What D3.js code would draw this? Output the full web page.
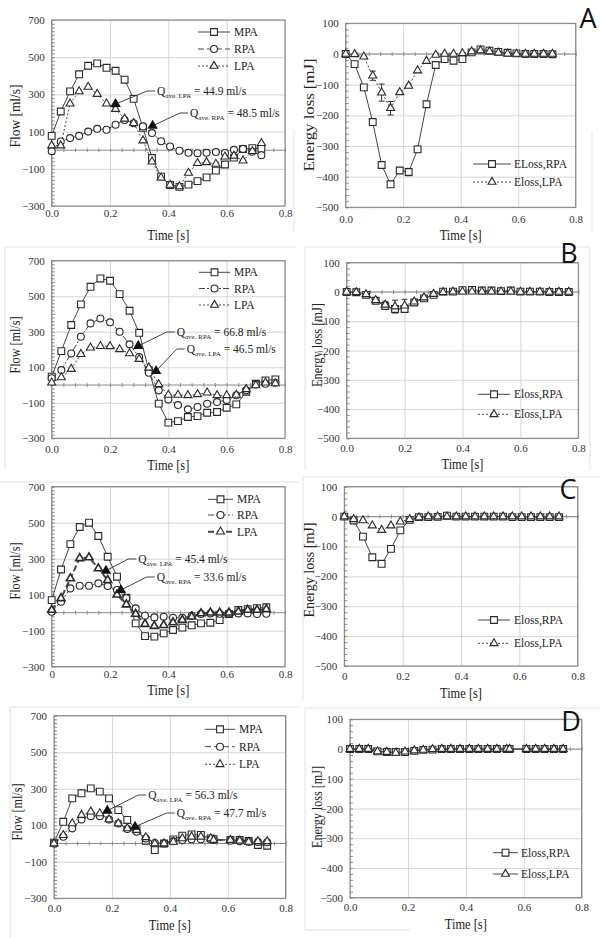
<!DOCTYPE html>
<html><head><meta charset="utf-8">
<script src="https://cdn.jsdelivr.net/npm/d3@7"></script>
<style>body{margin:0;background:#fff} svg{display:block}</style>
</head><body>
<svg id="c" width="600" height="938"></svg>
<script>
// ---------------- DATA ----------------
const timeTicks = [0, 0.2, 0.4, 0.6, 0.8];
const flowTicks = [700, 500, 300, 100, -100, -300];
const elossTicks = [100, 0, -100, -200, -300, -400, -500];

const timeA = [0,0.031,0.063,0.094,0.125,0.156,0.188,0.219,0.25,0.281,0.313,0.344,0.375,0.406,0.438,0.469,0.5,0.531,0.563,0.594,0.625,0.656,0.688,0.719];
const timeB = [0,0.033,0.067,0.1,0.133,0.167,0.2,0.233,0.267,0.3,0.333,0.367,0.4,0.433,0.467,0.5,0.533,0.567,0.6,0.633,0.667,0.7,0.733,0.767];
const timeC = [0,0.032,0.064,0.096,0.128,0.16,0.192,0.224,0.256,0.288,0.32,0.352,0.384,0.416,0.448,0.48,0.512,0.544,0.576,0.608,0.64,0.672,0.704,0.736];
const timeD = [0,0.032,0.063,0.095,0.127,0.158,0.19,0.222,0.253,0.285,0.317,0.348,0.38,0.412,0.443,0.475,0.507,0.541,0.551,0.609,0.641,0.672,0.704,0.736];

// Flow [ml/s]
const flowA_MPA = [77,208,316,408,454,467,443,427,379,276,120,-42,-142,-187,-197,-185,-166,-146,-110,-77,-40,6,11,8];
const flowA_RPA = [-5,47,65,77,100,115,110,137,162,145,128,92,48,20,-3,-14,-16,-14,-10,-15,2,7,-8,-27];
const flowA_LPA = [25,25,250,316,340,302,250,221,169,145,52,-62,-148,-187,-195,-122,-70,-65,-74,-35,-30,-56,-5,38];

const flowB_MPA = [47,191,338,454,553,600,587,512,418,294,83,-105,-212,-203,-180,-175,-156,-152,-128,-109,-38,7,26,32];
const flowB_RPA = [38,84,178,272,347,375,353,300,229,158,69,-30,-81,-113,-137,-124,-105,-96,-84,-58,-30,3,7,13];
const flowB_LPA = [13,43,90,174,210,219,218,201,178,146,97,4,-56,-56,-58,-52,-43,-58,-58,-56,-24,-2,13,9];

const flowC_MPA = [70,240,381,476,500,426,311,200,83,-59,-130,-133,-115,-96,-83,-70,-59,-56,-41,-7,15,20,25,30];
const flowC_RPA = [5,61,135,150,150,163,148,126,80,24,-17,-26,-22,-28,-28,-17,-7,-4,-6,-4,-4,-4,-7,-6];
const flowC_LPA = [15,80,190,302,307,246,181,100,45,-7,-63,-74,-69,-54,-41,-22,-4,0,0,0,6,15,15,19];

const flowD_MPA = [5,119,247,275,302,284,247,183,129,78,15,-36,0,23,43,50,47,28,24,19,19,14,-8,-12];
const flowD_RPA = [0,37,83,132,150,150,132,110,79,65,28,3,0,12,19,23,23,23,19,15,12,9,9,7];
const flowD_LPA = [0,46,110,156,174,165,132,110,83,74,34,0,0,9,28,37,37,28,19,19,15,9,12,12];

// Energy loss [mJ]
const elossA_RPA = [0,-33,-109,-222,-362,-425,-380,-385,-311,-164,-36,-17,-22,-17,5,15,11,7,4,2,0,0,0,-1];
const elossA_LPA = [0,-1,-9,-71,-126,-177,-125,-104,-54,-23,-3,0,0,2,8,11,8,4,1,0,0,0,0,0];
const errA_RPA = [0,0,0,0,0,0,8,12,10,0,0,0,0,0,0,0,0,0,0,0,0,0,0,0];
const errA_LPA = [0,0,3,15,28,22,5,5,0,0,0,0,0,0,0,0,0,0,0,0,0,0,0,0];

const elossB_RPA = [0,-1,-10,-30,-48,-58,-58,-36,-22,-10,1,1,6,7,5,5,3,5,1,1,1,0,0,0];
const elossB_LPA = [0,-1,-8,-28,-44,-50,-47,-33,-19,-7,-1,1,1,1,1,1,1,1,0,0,0,0,0,0];
const errB_RPA = [0,0,0,5,10,10,10,5,0,0,0,0,0,0,0,0,0,0,0,0,0,0,0,0];
const errB_LPA = [0,0,0,5,12,22,22,5,0,0,0,0,0,0,0,0,0,0,0,0,0,0,0,0];

const elossC_RPA = [0,-13,-67,-136,-158,-108,-46,-11,-2,-2,-1,3,0,0,0,0,0,0,-2,-2,-2,-2,-2,-2];
const elossC_LPA = [0,-9,-13,-30,-45,-30,-17,-9,-3,0,0,0,0,0,0,0,0,0,0,0,0,0,0,0];

const elossD_RPA = [0,0,0,-8,-10,-10,-10,-6,-3,-2,0,0,0,0,0,0,0,0,0,0,0,0,0,0];
const elossD_LPA = [0,0,0,-8,-10,-13,-9,-5,-3,-1,0,0,0,0,0,0,0,0,0,0,0,0,0,0];

// Average-flow annotations: [vessel, time, flow, label value]
const annotA = [["LPA",0.219,248,"44.9"],["RPA",0.346,131,"48.5"]];
const annotB = [["RPA",0.297,220,"66.8"],["LPA",0.358,79,"46.5"]];
const annotC = [["LPA",0.186,233,"45.4"],["RPA",0.237,126,"33.6"]];
const annotD = [["LPA",0.184,180,"56.3"],["RPA",0.28,92,"47.7"]];

const flowLegendLabels = ["MPA","RPA","LPA"];
const panelLetters = ["A","B","C","D"];

// ---------------- STYLE / LAYOUT ----------------
const SERIF = "'Liberation Serif','Times New Roman',serif";
const SANS = "'Open Sans','DejaVu Sans',sans-serif";
const LINE = "#454545";
const MARK = "#2a2a2a";

const sty = {
  MPA:  {sym:d3.symbolSquare, size:46, dash:null, w:1},
  RPA:  {sym:d3.symbolCircle, size:38, dash:"6,3", w:1},
  RPAdd:{sym:d3.symbolCircle, size:38, dash:"6,2,2,2", w:1},
  LPA:  {sym:d3.symbolTriangle, size:28, dash:"2,2", w:1},
  LPAb: {sym:d3.symbolTriangle, size:28, dash:"6,3", w:2},
  ER:   {sym:d3.symbolSquare, size:46, dash:null, w:1},
  EL:   {sym:d3.symbolTriangle, size:28, dash:"2,2", w:1},
  ELs:  {sym:d3.symbolTriangle, size:28, dash:null, w:1}
};

const svg = d3.select("#c");

// faint panel borders
const frameLines = [
 [5,247,296,247],[5,247,5,470],
 [305,247,590,247],[305,247,305,470],[590,247,590,470],
 [0,482,300,482],
 [303,477,600,477],[303,477,303,700],
 [10,707,300,707],[10,707,10,938],
 [305,708,600,708],[305,708,305,930],[305,930,410,930],
 [294,130,294,232],[592,132,592,232]
];
svg.append("g").selectAll("line").data(frameLines).join("line")
  .attr("x1",d=>d[0]).attr("y1",d=>d[1]).attr("x2",d=>d[2]).attr("y2",d=>d[3])
  .attr("stroke","#e2e2e2").attr("stroke-width",1);

function drawPanel(p){
  const g = svg.append("g");
  const x = d3.scaleLinear().domain([0,0.8]).range([p.x0,p.x1]);
  const y = d3.scaleLinear().domain(p.yDomain).range([p.y0,p.y1]);
  const W = p.x1-p.x0, H = p.y1-p.y0;
  const clean = a => a.select(".domain").remove();

  // horizontal grid
  g.append("g").attr("transform",`translate(${p.x0},0)`)
    .call(d3.axisLeft(y).tickValues(p.yTicks).tickSize(-W).tickFormat(""))
    .call(clean).selectAll("line").attr("stroke","#d6d6d6");
  // vertical grid
  g.append("g").attr("transform",`translate(0,${p.y0})`)
    .call(d3.axisBottom(x).tickValues(timeTicks).tickSize(H).tickFormat(""))
    .call(clean).selectAll("line").attr("stroke","#d6d6d6");
  // zero axis
  g.append("line").attr("x1",p.x0).attr("x2",p.x1).attr("y1",y(0)).attr("y2",y(0))
    .attr("stroke","#8a8a8a").attr("stroke-width",1);
  g.append("g").attr("transform",`translate(0,${y(0)-2})`)
    .call(d3.axisBottom(x).tickValues(d3.range(0,0.801,0.04)).tickSize(4).tickFormat(""))
    .call(clean).selectAll("line").attr("stroke","#8a8a8a");
  // y minor ticks (inside)
  const ymin = Math.min(...p.yDomain), ymax = Math.max(...p.yDomain);
  g.append("g").attr("transform",`translate(${p.x0},0)`)
    .call(d3.axisLeft(y).tickValues(d3.range(ymin,ymax+1,20)).tickSize(-3).tickFormat(""))
    .call(clean).selectAll("line").attr("stroke","#8a8a8a");
  // frame
  g.append("rect").attr("x",p.x0).attr("y",p.y0).attr("width",W).attr("height",H)
    .attr("fill","none").attr("stroke","#7a7a7a").attr("stroke-width",1);

  // tick labels
  g.append("g").attr("transform",`translate(${p.x0},0)`)
    .call(d3.axisLeft(y).tickValues(p.yTicks).tickSize(0).tickPadding(7).tickFormat(d3.format("d")))
    .call(clean).selectAll("text").attr("font-family",SERIF).attr("font-size",11).attr("fill","#333");
  g.append("g").attr("transform",`translate(0,${p.y1})`)
    .call(d3.axisBottom(x).tickValues(timeTicks).tickSize(0).tickPadding(p.xPad)
      .tickFormat(d => p.xZero && d===0 ? "0" : d3.format(".1f")(d)))
    .call(clean).selectAll("text").attr("font-family",SERIF).attr("font-size",11).attr("fill","#333");

  // titles
  g.append("text").attr("x",(p.x0+p.x1)/2).attr("y",p.xTitleY)
    .attr("text-anchor","middle").attr("dominant-baseline","central")
    .attr("font-family",SERIF).attr("font-size",14).attr("fill","#222")
    .attr("textLength",p.xTitleLen).attr("lengthAdjust","spacingAndGlyphs").text("Time [s]");
  g.append("text").attr("transform",`translate(${p.yTitleX},${p.yTitleY}) rotate(-90)`)
    .attr("text-anchor","middle").attr("dominant-baseline","central")
    .attr("font-family",SERIF).attr("font-size",14.5).attr("fill","#222")
    .attr("textLength",p.yTitleLen).attr("lengthAdjust","spacingAndGlyphs").text(p.yTitle);

  // series lines
  const line = d3.line().x(d=>x(d.t)).y(d=>y(d.v));
  const sets = p.series.map(s => ({s, pts: s.time.map((t,i)=>({t, v:s.values[i], e:s.err?s.err[i]:0}))}));
  sets.forEach(({s,pts}) => {
    const st = sty[s.style];
    g.append("path").datum(pts).attr("d",line).attr("fill","none")
      .attr("stroke",LINE).attr("stroke-width",st.w).attr("stroke-dasharray",st.dash);
  });
  // error bars
  sets.forEach(({s,pts}) => {
    const eb = pts.filter(d=>d.e>0);
    const gg = g.append("g").attr("stroke","#333").attr("stroke-width",1);
    gg.selectAll("line.v").data(eb).join("line").attr("x1",d=>x(d.t)).attr("x2",d=>x(d.t))
      .attr("y1",d=>y(d.v+d.e)).attr("y2",d=>y(d.v-d.e));
    gg.selectAll("line.t").data(eb).join("line").attr("x1",d=>x(d.t)-3).attr("x2",d=>x(d.t)+3)
      .attr("y1",d=>y(d.v+d.e)).attr("y2",d=>y(d.v+d.e));
    gg.selectAll("line.b").data(eb).join("line").attr("x1",d=>x(d.t)-3).attr("x2",d=>x(d.t)+3)
      .attr("y1",d=>y(d.v-d.e)).attr("y2",d=>y(d.v-d.e));
  });
  // markers
  sets.forEach(({s,pts}) => {
    const st = sty[s.style];
    g.append("g").selectAll("path").data(pts).join("path")
      .attr("transform",d=>`translate(${x(d.t)},${y(d.v)})`)
      .attr("d",d3.symbol(st.sym,st.size)).attr("fill","#fff")
      .attr("stroke",MARK).attr("stroke-width",st.w>1?1.6:1.1);
  });

  // legend
  const L = p.legend;
  p.series.forEach((s,i) => {
    const st = sty[s.style], ly = L.ys[i];
    g.append("line").attr("x1",L.x1).attr("x2",L.x2).attr("y1",ly).attr("y2",ly)
      .attr("stroke",LINE).attr("stroke-width",st.w).attr("stroke-dasharray",st.dash);
    g.append("path").attr("transform",`translate(${(L.x1+L.x2)/2},${ly})`)
      .attr("d",d3.symbol(st.sym,st.size)).attr("fill","#fff").attr("stroke",MARK).attr("stroke-width",1.1);
    g.append("text").attr("x",L.tx).attr("y",ly).attr("dominant-baseline","central")
      .attr("font-family",SERIF).attr("font-size",11.5).attr("fill","#222").text(s.label);
  });

  // annotations
  if (p.annot) {
    p.annot.forEach((a,i) => {
      const [nm,t,v,val] = a;
      const pos = p.annotPos[i];
      const px = x(t), py = y(v);
      g.append("path").attr("d",`M${px},${py}L${pos[0]-10},${pos[1]}L${pos[0]-2},${pos[1]}`)
        .attr("fill","none").attr("stroke","#444").attr("stroke-width",1);
      g.append("path").attr("transform",`translate(${px},${py})`)
        .attr("d",d3.symbol(d3.symbolTriangle,48)).attr("fill","#111");
      const tx = g.append("text").attr("x",pos[0]).attr("y",pos[1]+4)
        .attr("font-family",SERIF).attr("font-size",11.5).attr("fill","#222");
      tx.append("tspan").text("Q");
      tx.append("tspan").attr("font-size",7).attr("dy",2.5).text("ave. "+nm);
      tx.append("tspan").attr("dy",-2.5).text(" = "+val+" ml/s");
    });
  }
}

// ---------------- PANELS ----------------
const rows = [
 {tf:timeA, fM:flowA_MPA, fR:flowA_RPA, fL:flowA_LPA, rs:"RPA", ls:"LPA", an:annotA,
  annotPos:[[157,91],[190,113]],
  eR:elossA_RPA, eL:elossA_LPA, errR:errA_RPA, errL:errA_LPA, eNames:["ELoss,RPA","Eloss,LPA"], els:"EL",
  L:{x0:51.7,x1:285,y0:20,y1:206,xPad:3,xTitleY:235, yTitleY:116, yLen:63, legend:{x1:198,x2:230,tx:234,ys:[32,49,66]}},
  R:{x0:345.7,x1:575.7,y0:23.3,y1:207.3,xPad:8,xTitleY:235, yTitleX:309, yTitleY:115, yLen:113, legend:{x1:473,x2:511,tx:514,ys:[164,182]}},
  letter:[588,17]},
 {tf:timeB, fM:flowB_MPA, fR:flowB_RPA, fL:flowB_LPA, rs:"RPAdd", ls:"LPA", an:annotB,
  annotPos:[[176.7,332],[186.7,349]],
  eR:elossB_RPA, eL:elossB_LPA, errR:errB_RPA, errL:errB_LPA, eNames:["Eloss,RPA","Eloss,LPA"], els:"EL",
  L:{x0:51.7,x1:285,y0:260.7,y1:438.3,xPad:7,xTitleY:465, yTitleY:345, yLen:57, legend:{x1:199,x2:230,tx:234,ys:[272.3,288.5,305]}},
  R:{x0:346.7,x1:578.3,y0:262.7,y1:438.3,xPad:6,xTitleY:464, yTitleX:317, yTitleY:345, yLen:84, legend:{x1:478,x2:510,tx:514,ys:[394.3,414.3]}},
  letter:[569,252]},
 {tf:timeC, fM:flowC_MPA, fR:flowC_RPA, fL:flowC_LPA, rs:"RPAdd", ls:"LPAb", an:annotC,
  annotPos:[[138.3,559],[156.7,577]],
  eR:elossC_RPA, eL:elossC_LPA, eNames:["Eloss,RPA","Eloss,LPA"], els:"EL", xZero:true,
  L:{x0:51.7,x1:285,y0:486.7,y1:666.7,xPad:4,xTitleY:690, yTitleY:571, yLen:57, legend:{x1:208,x2:233,tx:237,ys:[499.3,515,531.7]}},
  R:{x0:344.3,x1:577.7,y0:486.7,y1:666,xPad:6,xTitleY:693, yTitleX:308.5, yTitleY:570, yLen:95, legend:{x1:478,x2:510,tx:514,ys:[620,643.3]}},
  letter:[568,488]},
 {tf:timeD, fM:flowD_MPA, fR:flowD_RPA, fL:flowD_LPA, rs:"RPA", ls:"LPA", an:annotD,
  annotPos:[[148.3,795],[176.7,813]],
  eR:elossD_RPA, eL:elossD_LPA, eNames:["Eloss,RPA","Eloss,LPA"], els:"ELs",
  L:{x0:54,x1:285.7,y0:715.7,y1:898.3,xPad:6,xTitleY:925, yTitleX:17.3, yTitleY:812, yLen:57, legend:{x1:205,x2:235,tx:239,ys:[729.3,746.7,764.3]}},
  R:{x0:350,x1:581.7,y0:719.3,y1:897.7,xPad:6,xTitleY:924, yTitleX:317, yTitleY:807, yLen:82, legend:{x1:493,x2:518,tx:521,ys:[852.7,874]}},
  letter:[571,720]}
];

rows.forEach((r,ri) => {
  drawPanel(Object.assign({}, r.L, {
    yDomain:[700,-300], yTicks:flowTicks, xZero:r.xZero,
    xTitleLen:42, yTitle:"Flow [ml/s]", yTitleX: r.L.yTitleX || 15, yTitleLen:r.L.yLen,
    series:[
      {time:r.tf, values:r.fM, style:"MPA", label:flowLegendLabels[0]},
      {time:r.tf, values:r.fR, style:r.rs, label:flowLegendLabels[1]},
      {time:r.tf, values:r.fL, style:r.ls, label:flowLegendLabels[2]}
    ],
    annot:r.an, annotPos:r.annotPos
  }));
  drawPanel(Object.assign({}, r.R, {
    yDomain:[100,-500], yTicks:elossTicks, xZero:r.xZero,
    xTitleLen:42, yTitle:"Energy loss [mJ]", yTitleLen:r.R.yLen,
    series:[
      {time:r.tf, values:r.eR, err:r.errR, style:"ER", label:r.eNames[0]},
      {time:r.tf, values:r.eL, err:r.errL, style:r.els, label:r.eNames[1]}
    ]
  }));
  svg.append("text").attr("x",r.letter[0]).attr("y",r.letter[1]).attr("text-anchor","middle")
    .attr("dominant-baseline","central").attr("font-family",SANS).attr("font-size",27)
    .attr("fill","#111").text(panelLetters[ri]);
});
</script>
</body></html>
